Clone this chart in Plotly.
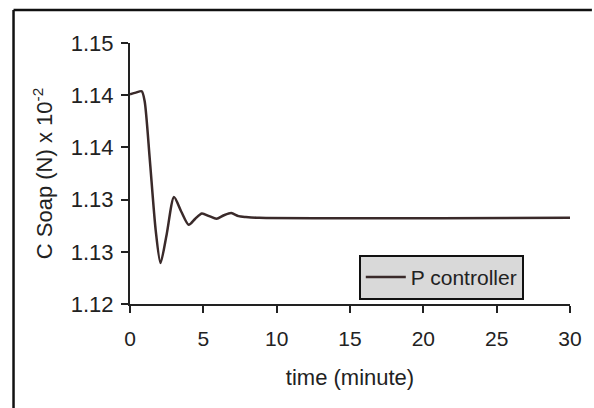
import plotly.graph_objects as go

# data
time_min = [0.0, 0.4, 0.8, 1.0, 1.35, 1.75, 2.08, 2.5, 3.0, 3.5, 4.0, 4.45, 4.9,
            5.4, 5.9, 6.4, 6.9, 7.4, 7.9, 8.8, 30.0]
c_soap = [1.1441, 1.1443, 1.14445, 1.1433, 1.1366, 1.1285, 1.1247, 1.1280, 1.1323,
          1.1306, 1.1291, 1.1298, 1.1304, 1.1301, 1.1298, 1.1302, 1.13045, 1.1301,
          1.1300, 1.1299, 1.1299]
series_name = "P controller"

y_tickvals = [1.12, 1.126, 1.132, 1.138, 1.144, 1.15]
y_ticktext = ["1.12", "1.13", "1.13", "1.14", "1.14", "1.15"]
x_tickvals = [0, 5, 10, 15, 20, 25, 30]

FONT = "Liberation Sans, Arial, sans-serif"
INK = "#222222"

fig = go.Figure()
fig.add_trace(go.Scatter(
    x=time_min, y=c_soap, mode="lines", name=series_name,
    line=dict(color="#3a2a2a", width=2.5, shape="spline", smoothing=0.7),
))

fig.update_layout(
    width=594, height=408,
    margin=dict(l=130, r=22, t=43, b=104),
    paper_bgcolor="white", plot_bgcolor="white",
    font=dict(family=FONT, size=21, color=INK),
    showlegend=True,
    legend=dict(
        x=0.52, y=0.188, xanchor="left", yanchor="top",
        bgcolor="#d9d9d9", bordercolor="#111111", borderwidth=2,
        font=dict(size=21, color=INK), itemwidth=40,
    ),
    xaxis=dict(
        range=[0, 30], tickvals=x_tickvals, ticks="outside", ticklen=7,
        tickwidth=2, tickcolor=INK, showline=True, linecolor=INK, linewidth=2,
        showgrid=False, zeroline=False, ticklabelstandoff=8,
        title=dict(text="time (minute)", font=dict(size=22), standoff=20),
    ),
    yaxis=dict(
        range=[1.12, 1.15], tickvals=y_tickvals, ticktext=y_ticktext,
        tickfont=dict(size=22),
        ticks="outside", ticklen=7, tickwidth=2, tickcolor=INK,
        showline=True, linecolor=INK, linewidth=2, showgrid=False,
        zeroline=False, ticklabelstandoff=3,
        title=dict(text="C Soap (N) x 10<sup>-2</sup>", font=dict(size=22), standoff=12),
    ),
    shapes=[
        dict(type="line", xref="paper", yref="paper",
             x0=(13 - 130) / 442, x1=(13 - 130) / 442, y0=1 + 33 / 261, y1=-104 / 261,
             line=dict(color="#111111", width=2.5)),
        dict(type="line", xref="paper", yref="paper",
             x0=(13 - 130) / 442, x1=22 / 442 + 1, y0=1 + 33 / 261, y1=1 + 33 / 261,
             line=dict(color="#111111", width=2.5)),
    ],
)

fig.write_html("out.html")
